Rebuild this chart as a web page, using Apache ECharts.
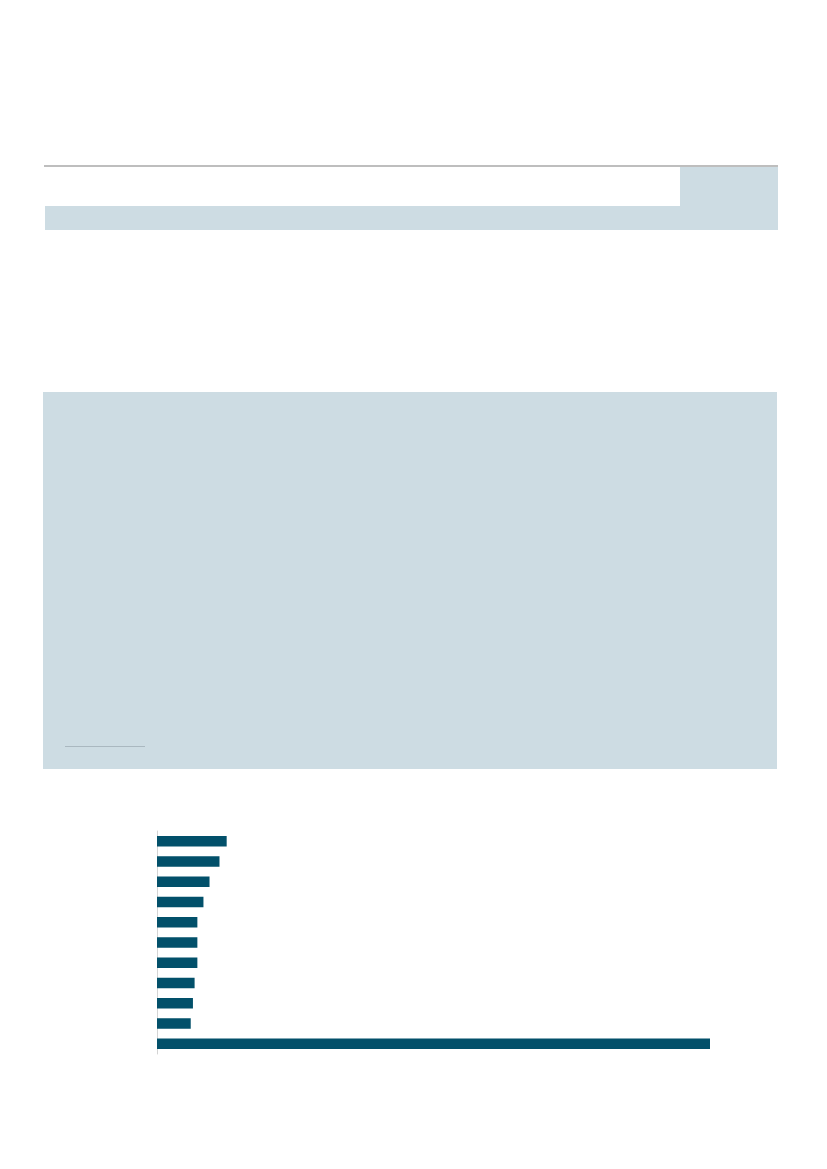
<!DOCTYPE html>
<html>
<head>
<meta charset="utf-8">
<script src="https://cdn.jsdelivr.net/npm/echarts@6/dist/echarts.min.js"></script>
<style>
  html, body { margin: 0; padding: 0; background: #fff; }
  #main { width: 827px; height: 1169px; }
</style>
</head>
<body>
<div id="main"></div>
<script>
// categories (the picture shows no labels) and bar values, top to bottom
var categories = ['c1', 'c2', 'c3', 'c4', 'c5', 'c6', 'c7', 'c8', 'c9', 'c10', 'c11'];
var values = [12.6, 11.3, 9.5, 8.4, 7.3, 7.3, 7.3, 6.8, 6.5, 6.1, 100];

var panelBlue = '#cddce3';
var barColor = '#02506a';

var chart = echarts.init(document.getElementById('main'));

chart.setOption({
    backgroundColor: '#ffffff',
    animation: false,
    // page decoration around the chart
    graphic: [
        { type: 'line', shape: { x1: 44, y1: 166, x2: 778, y2: 166 }, style: { stroke: '#bebebe', lineWidth: 2 } },
        { type: 'rect', shape: { x: 680, y: 167, width: 98, height: 39 }, style: { fill: panelBlue } },
        { type: 'rect', shape: { x: 45, y: 206, width: 733, height: 24 }, style: { fill: panelBlue } },
        { type: 'rect', shape: { x: 43, y: 392, width: 734, height: 377 }, style: { fill: panelBlue } },
        { type: 'line', shape: { x1: 65, y1: 746.5, x2: 145, y2: 746.5 }, style: { stroke: '#aab8c0', lineWidth: 1.2 } }
    ],
    grid: {
        left: 157,
        top: 831,
        width: 553,
        height: 223
    },
    xAxis: {
        type: 'value',
        min: 0,
        max: 100,
        show: false
    },
    yAxis: {
        type: 'category',
        data: categories,
        inverse: true,
        axisLine: { show: true, lineStyle: { color: '#d4d4d4', width: 1 } },
        axisTick: { show: false },
        axisLabel: { show: false }
    },
    series: [{
        type: 'bar',
        data: values,
        barWidth: 10.5,
        itemStyle: { color: barColor }
    }]
});
</script>
</body>
</html>
